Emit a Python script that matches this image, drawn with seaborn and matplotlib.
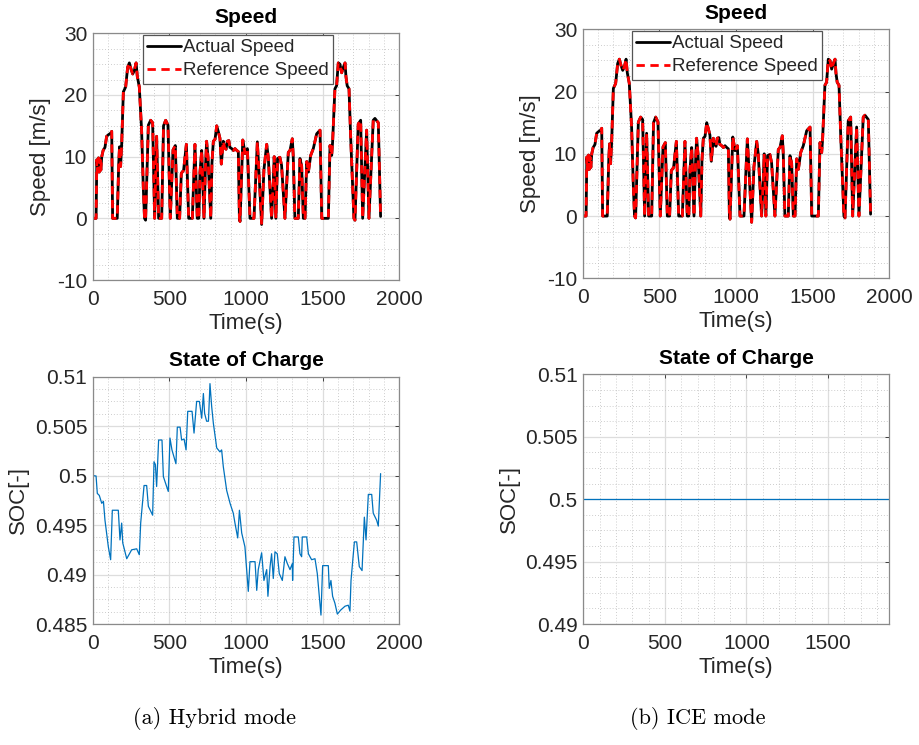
import matplotlib
matplotlib.use("Agg")
import matplotlib.pyplot as plt
from matplotlib.ticker import MultipleLocator, FuncFormatter
import pandas as pd
import seaborn as sns

# Drive-cycle speed trace (s, m/s)
speed_time = [0, 22, 27, 33, 38, 43, 48, 53, 59, 68, 80, 91, 105, 117, 124, 130,
              160, 170, 175, 182, 189, 200, 215, 228, 239, 250, 261, 272, 283, 291,
              304, 319, 330, 338, 345, 363, 378, 391, 404, 417, 430, 450, 462, 476,
              491, 506, 524, 539, 552, 567, 578, 593, 611, 626, 650, 667, 682, 692,
              700, 711, 726, 735, 743, 752, 770, 778, 787, 798, 809, 820, 830, 839,
              852, 860, 870, 878, 888, 895, 907, 918, 928, 940, 950, 957, 961, 979,
              994, 1009, 1026, 1052, 1074, 1085, 1102, 1117, 1135, 1145, 1167, 1178,
              1184, 1195, 1206, 1221, 1232, 1254, 1276, 1287, 1302, 1308, 1319, 1341,
              1352, 1363, 1374, 1385, 1396, 1407, 1422, 1439, 1461, 1483, 1494, 1537,
              1548, 1559, 1565, 1580, 1591, 1602, 1613, 1624, 1635, 1646, 1652, 1660,
              1672, 1683, 1704, 1711, 1732, 1748, 1761, 1787, 1802, 1830, 1841, 1863,
              1878]
speed_reference = [0, 0, 9.5, 7.5, 9.8, 7.5, 9.5, 7.8, 10, 11, 11.5, 13.3, 13.6, 13.8,
                   14.1, 0, 0, 9, 11.6, 8.4, 12, 20.5, 21.3, 24.5, 25.2, 24.2, 23.4,
                   24, 25.2, 23, 21.3, 14.3, 5, 0, -0.3, 15.1, 15.9, 15.5, 0, 13.3, 0,
                   0, 15, 15.9, 15.1, 0, 11.1, 11.8, 0, 0, 7.3, 7.8, 12, 0, 0, 12, 0,
                   0, 7.5, 11, 0, 8, 12.5, 10, 0, 9, 12.5, 12.8, 15, 14, 13, 8.8, 12.5,
                   11.5, 11.2, 12.5, 12.6, 11.5, 11.3, 11, 11.3, 11, 10.8, 0, -0.5,
                   12.7, 10.5, 11.3, 0, 0, 12.4, 7.3, -1, 7.9, 12, 10, 0, 5.9, 10, 0,
                   9.7, 9.9, 8.6, 0, 10.7, 11, 12.9, 10.2, 0, 0, 9.7, 8.5, 0, 0, 9.2,
                   7.5, 10.2, 11.3, 13.7, 14.3, 0, 0, 11.8, 10.2, 12.4, 21, 21.5, 25.2,
                   25, 23.6, 24.5, 25.2, 23, 21.5, 21, 13, 0, -0.3, 15.3, 15.9, 0,
                   14.3, 0, 15.9, 16.2, 15.5, 0.3]
speed_actual = list(speed_reference)

# Battery state of charge, hybrid operation
soc_hybrid_time = [0, 4, 22, 30, 43, 59, 70, 80, 102, 117, 128, 167, 178, 189, 196,
                   222, 254, 287, 304, 313, 335, 352, 363, 391, 400, 409, 417, 430,
                   452, 461, 493, 504, 517, 543, 552, 570, 580, 596, 609, 620, 648,
                   661, 678, 696, 711, 722, 730, 743, 755, 765, 776, 787, 809, 830,
                   841, 852, 874, 896, 917, 928, 946, 957, 972, 993, 1015, 1026, 1059,
                   1070, 1080, 1102, 1117, 1135, 1143, 1157, 1167, 1178, 1189, 1204,
                   1217, 1237, 1254, 1270, 1287, 1302, 1304, 1313, 1341, 1352, 1363,
                   1367, 1396, 1407, 1428, 1450, 1465, 1489, 1500, 1537, 1543, 1554,
                   1565, 1580, 1596, 1617, 1646, 1667, 1678, 1685, 1707, 1722, 1739,
                   1757, 1772, 1783, 1798, 1820, 1830, 1852, 1863, 1878]
soc_hybrid = [0.5, 0.5, 0.49996, 0.4982, 0.498, 0.4972, 0.4974, 0.4955, 0.4928,
              0.4915, 0.4965, 0.4965, 0.4935, 0.4952, 0.4932, 0.4916, 0.4925, 0.4926,
              0.492, 0.4952, 0.499, 0.499, 0.4969, 0.496, 0.5014, 0.5011, 0.4989,
              0.5036, 0.5036, 0.4999, 0.4984, 0.5038, 0.5026, 0.5012, 0.5049, 0.5049,
              0.5036, 0.5037, 0.5026, 0.5065, 0.5065, 0.5043, 0.5075, 0.5075, 0.5058,
              0.5083, 0.5063, 0.5055, 0.5055, 0.5093, 0.507, 0.5053, 0.5028, 0.5024,
              0.5026, 0.5009, 0.4985, 0.4972, 0.4962, 0.4952, 0.4937, 0.4965, 0.4942,
              0.4928, 0.4883, 0.4913, 0.4913, 0.4884, 0.4905, 0.4922, 0.4894, 0.4905,
              0.4878, 0.4908, 0.4921, 0.4896, 0.4923, 0.4921, 0.4901, 0.4894, 0.4918,
              0.4911, 0.4905, 0.4911, 0.4894, 0.4938, 0.4938, 0.4921, 0.4918, 0.4938,
              0.4938, 0.4921, 0.4915, 0.4916, 0.4901, 0.4859, 0.4909, 0.4909, 0.4886,
              0.4894, 0.4878, 0.4871, 0.486, 0.4864, 0.4868, 0.4869, 0.4863, 0.4894,
              0.4933, 0.4933, 0.4908, 0.4904, 0.4958, 0.4935, 0.4981, 0.4981, 0.4962,
              0.4955, 0.4949, 0.5002]

# Battery state of charge, engine-only operation
soc_ice_time = [0, 1875]
soc_ice = [0.5, 0.5]

captions = ["(a) Hybrid mode", "(b) ICE mode"]

sns.set_theme(style="white")
plt.rcParams["font.family"] = ["Liberation Sans", "DejaVu Sans"]
plt.rcParams["axes.unicode_minus"] = False

W, H = 920, 745
fig = plt.figure(figsize=(W / 100, H / 100), dpi=100)


def add_axes(left, top, right, bottom):
    return fig.add_axes([left / W, 1 - bottom / H, (right - left) / W, (bottom - top) / H])


def style_axes(ax, title, ylabel, xlim, ylim, ymajor, yminor):
    ax.set_xlim(*xlim)
    ax.set_ylim(*ylim)
    ax.xaxis.set_major_locator(MultipleLocator(500))
    ax.xaxis.set_minor_locator(MultipleLocator(100))
    ax.yaxis.set_major_locator(MultipleLocator(ymajor))
    ax.yaxis.set_minor_locator(MultipleLocator(yminor))
    ax.yaxis.set_major_formatter(FuncFormatter(lambda v, p: f"{round(v, 6):g}"))
    ax.grid(which="major", color="#dddddd", lw=0.9, ls="-")
    ax.grid(which="minor", color="#bdbdbd", lw=0.6, ls=(0, (1, 2.5)))
    ax.set_axisbelow(True)
    ax.tick_params(which="both", direction="in", top=True, right=True,
                   colors="#262626", labelsize=15, length=3, width=0.6)
    ax.tick_params(axis="x", which="major", pad=7)
    ax.tick_params(axis="y", which="major", pad=4)
    ax.tick_params(which="minor", length=0)
    for s in ax.spines.values():
        s.set_color("#8a8a8a")
        s.set_linewidth(0.9)
    ax.set_title(title, fontsize=15, fontweight="bold", color="black", pad=7.7)
    ax.set_xlabel("Time(s)", fontsize=16, color="#262626", labelpad=3)
    ax.set_ylabel(ylabel, fontsize=16, color="#262626", labelpad=4)


speed_df = pd.DataFrame({"Time": speed_time,
                         "Actual": speed_actual,
                         "Reference": speed_reference})
soc_h_df = pd.DataFrame({"Time": soc_hybrid_time, "SOC": soc_hybrid})
soc_i_df = pd.DataFrame({"Time": soc_ice_time, "SOC": soc_ice})

ax_tl = add_axes(92.7, 33.3, 399.3, 280)
ax_bl = add_axes(92.7, 376.7, 399.3, 624)
ax_tr = add_axes(582.7, 29.3, 889.3, 278.3)
ax_br = add_axes(583.3, 374.3, 889.3, 624)

for ax, lx in [(ax_tl, 0.474), (ax_tr, 0.471)]:
    sns.lineplot(data=speed_df, x="Time", y="Actual", color="black", lw=2.0,
                 label="Actual Speed", ax=ax, estimator=None, sort=False)
    sns.lineplot(data=speed_df, x="Time", y="Reference", color="#ff0000", lw=2.0,
                 ls=(0, (3, 2)), label="Reference Speed", ax=ax,
                 estimator=None, sort=False)
    style_axes(ax, "Speed", "Speed [m/s]", (0, 2000), (-10, 30), 10, 2.5)
    leg = ax.legend(loc="upper center", bbox_to_anchor=(lx, 0.995), fontsize=13.5,
                    frameon=True, fancybox=False, edgecolor="#555555", framealpha=1,
                    handlelength=1.8, handletextpad=0.1, borderpad=0.25,
                    labelspacing=0.3, borderaxespad=0)
    leg.get_frame().set_linewidth(0.9)
    for t in leg.get_texts():
        t.set_color("#262626")

sns.lineplot(data=soc_h_df, x="Time", y="SOC", color="#0072BD", lw=0.9, ax=ax_bl,
             estimator=None, sort=False)
style_axes(ax_bl, "State of Charge", "SOC[-]", (0, 2000), (0.485, 0.51), 0.005, 0.00125)

sns.lineplot(data=soc_i_df, x="Time", y="SOC", color="#0072BD", lw=0.9, ax=ax_br,
             estimator=None, sort=False)
style_axes(ax_br, "State of Charge", "SOC[-]", (soc_ice_time[0], soc_ice_time[-1]),
           (0.49, 0.51), 0.005, 0.00125)

fig.text(215 / W, 1 - 718 / H, captions[0], family="cmr10", fontsize=16,
         ha="center", va="center", color="black")
fig.text(698 / W, 1 - 718 / H, captions[1], family="cmr10", fontsize=16,
         ha="center", va="center", color="black")

fig.savefig("out.png", dpi=100, facecolor="white")
